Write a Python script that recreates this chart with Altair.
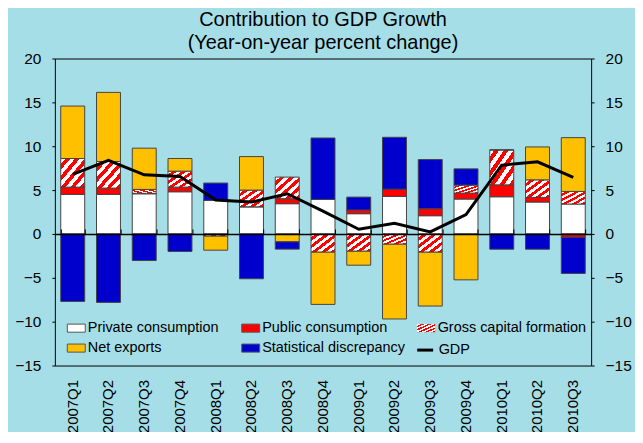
import altair as alt
import pandas as pd

quarters = ["2007Q1", "2007Q2", "2007Q3", "2007Q4", "2008Q1", "2008Q2", "2008Q3", "2008Q4",
            "2009Q1", "2009Q2", "2009Q3", "2009Q4", "2010Q1", "2010Q2", "2010Q3"]
private_cons = [4.5, 4.5, 4.58, 4.81, 3.83, 3.1, 3.45, 3.94, 2.31, 4.28, 2.08, 3.98, 4.24, 3.64, 3.41]
public_cons = [0.84, 0.73, 0.05, 0.53, 0.0, 0.0, 0.57, 0.0, 0.42, 0.83, 0.8, 0.68, 1.36, 0.53, -0.38]
gross_cap = [3.26, 3.03, 0.45, 1.82, -0.25, 1.9, 2.46, -2.08, -1.97, -1.17, -2.08, 0.91, 3.98, 2.0, 1.44]
net_exports = [5.98, 7.88, 4.7, 1.44, -1.6, 3.82, -0.9, -5.95, -1.59, -8.52, -6.14, -5.23, 0.0, 3.75, 6.13]
stat_disc = [-7.69, -7.8, -3.03, -2.0, 1.97, -5.11, -0.83, 7.0, 1.47, 5.91, 5.6, 1.85, -1.74, -1.74, -4.12]
gdp = [6.8, 8.4, 6.74, 6.55, 3.86, 3.64, 4.58, 2.6, 0.53, 1.21, 0.23, 2.2, 7.84, 8.22, 6.44]

series_names = ["Private consumption", "Public consumption", "Gross capital formation",
                "Net exports", "Statistical discrepancy"]
series_colors = ["#ffffff", "#ff0000", "#ff6060", "#ffc000", "#0000cc"]
y_ticks = [-15, -10, -5, 0, 5, 10, 15, 20]

rows = []
for i, q in enumerate(quarters):
    for k, vals in enumerate([private_cons, public_cons, gross_cap, net_exports, stat_disc]):
        rows.append({"quarter": q, "series": series_names[k], "order": k, "value": vals[i]})
bars_df = pd.DataFrame(rows)
gdp_df = pd.DataFrame({"quarter": quarters, "series": "GDP", "value": gdp})

FONT = "Liberation Sans"
BG = "#a6dee8"


def stripe_stops(n):
    out = []
    for j in range(n):
        a = j / n
        b = (j + 0.5) / n
        c = (j + 1) / n
        out += [{"offset": a, "color": "#ffffff"}, {"offset": b, "color": "#ffffff"},
                {"offset": b, "color": "#ff0000"}, {"offset": c, "color": "#ff0000"}]
    return out


hatch = {"gradient": "linear", "x1": 0, "y1": 0, "x2": 1, "y2": 1, "stops": stripe_stops(5)}
legend_stops = ", ".join("{offset: %g, color: '%s'}" % (s["offset"], s["color"]) for s in stripe_stops(3))
hatch_expr = "{gradient: 'linear', x1: 0, y1: 0, x2: 1, y2: 1, stops: [" + legend_stops + "]}"

x_scale = alt.Scale(domain=quarters, paddingInner=0.33, paddingOuter=0.165)
y_scale = alt.Scale(domain=[-15, 20], nice=False, zero=False)

rect_path = "M-1,-0.45H1V0.45H-1Z"

legend_common = dict(title=None, orient="none", padding=0, labelFont=FONT, labelFontSize=14.5,
                     labelColor="#000000", labelLimit=300)

fill_legend = alt.Legend(
    values=["Private consumption", "Public consumption", "Net exports", "Statistical discrepancy"],
    legendX=12, legendY=261, columns=2, direction="horizontal", gridAlign="all",
    columnPadding=8, rowPadding=4,
    labelOffset=2, symbolType=rect_path, symbolSize=324, symbolStrokeColor="#555555",
    symbolStrokeWidth=1, **legend_common,
)
gcf_legend = alt.Legend(
    values=["Gross capital formation"], legendX=363, legendY=261, labelOffset=2,
    symbolType=rect_path, symbolSize=324, symbolStrokeColor="#555555", symbolStrokeWidth=1,
    symbolFillColor={"expr": hatch_expr}, symbolOpacity=1, **legend_common,
)
gdp_legend = alt.Legend(
    legendX=362, legendY=283, labelOffset=4, symbolType="stroke", symbolSize=256,
    symbolStrokeColor="#000000", symbolStrokeWidth=3, **legend_common,
)

bars = alt.Chart(bars_df).mark_bar(stroke="#444444", strokeWidth=1).encode(
    x=alt.X("quarter:N", scale=x_scale, sort=quarters,
            axis=alt.Axis(orient="bottom", title=None, labelAngle=270, labelAlign="right",
                          labelBaseline="middle", labelPadding=14, ticks=False, domain=False,
                          labelFont=FONT, labelFontSize=15, labelColor="#000000")),
    y=alt.Y("value:Q", scale=y_scale, stack="zero",
            axis=alt.Axis(orient="left", title=None, values=y_ticks, grid=False, domain=False,
                          tickSize=3, tickColor="#000000", labelPadding=11,
                          labelFont=FONT, labelFontSize=15.5, labelColor="#000000")),
    fill=alt.condition(alt.datum.series == "Gross capital formation", alt.value(hatch),
                       alt.Fill("series:N", scale=alt.Scale(domain=series_names, range=series_colors),
                                legend=fill_legend)),
    opacity=alt.Opacity("series:O", scale=alt.Scale(domain=series_names[::-1], range=[1, 1, 1, 1, 1]),
                        legend=gcf_legend),
    order=alt.Order("order:Q", sort="ascending"),
)

line = alt.Chart(gdp_df).mark_line(strokeWidth=3).encode(
    x=alt.X("quarter:N", scale=x_scale, sort=quarters,
            axis=alt.Axis(orient="top", title=None, labels=False, offset=-176, tickBand="extent",
                          tickSize=5, tickColor="#000000", domainColor="#000000", domainWidth=1.5,
                          zindex=1)),
    y=alt.Y("value:Q", scale=y_scale,
            axis=alt.Axis(orient="right", title=None, values=y_ticks, grid=False, domain=False,
                          tickSize=3, tickColor="#000000", labelPadding=11,
                          labelFont=FONT, labelFontSize=15.5, labelColor="#000000")),
    stroke=alt.Stroke("series:N", scale=alt.Scale(domain=["GDP"], range=["#000000"]), legend=gdp_legend),
)

chart = alt.layer(bars, line).resolve_axis(x="independent", y="independent").properties(
    width=538, height=308,
    title=alt.Title(["Contribution to GDP Growth", "(Year-on-year percent change)"],
                    font=FONT, fontSize=20, fontWeight="normal", color="#000000",
                    anchor="middle", offset=-1, lineHeight=23),
    background=BG,
    autosize=alt.AutoSizeParams(type="none"),
    padding={"left": 47, "top": 50, "right": 44, "bottom": 66},
).configure_view(stroke="#000000", strokeWidth=1, fill=BG)

chart.save("out.html", embed_options={"renderer": "svg", "actions": False})
